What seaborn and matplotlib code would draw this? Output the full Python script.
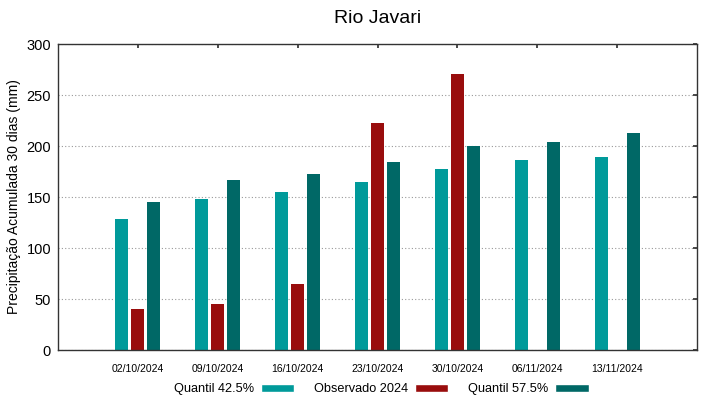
import numpy as np
import pandas as pd
import seaborn as sns
import matplotlib.pyplot as plt
from matplotlib.patches import Patch

# dados
datas = ['02/10/2024', '09/10/2024', '16/10/2024', '23/10/2024',
         '30/10/2024', '06/11/2024', '13/11/2024']
quantil_425 = [128, 148, 155, 165, 177, 186, 189]
observado_2024 = [40, 45, 65, 223, 271, np.nan, np.nan]
quantil_575 = [145, 167, 173, 184, 200, 204, 213]

series = ['Quantil 42.5%', 'Observado 2024', 'Quantil 57.5%']
cores = ['#009a9a', '#990d0d', '#006866']

df = pd.DataFrame({
    'data': datas * 3,
    'valor': quantil_425 + observado_2024 + quantil_575,
    'serie': [s for s in series for _ in datas],
})

sns.set_theme(style='white')
plt.rcParams['font.family'] = ['Liberation Sans', 'DejaVu Sans']
plt.rcParams['text.color'] = 'black'
plt.rcParams['axes.labelcolor'] = 'black'
plt.rcParams['xtick.color'] = 'black'
plt.rcParams['ytick.color'] = 'black'

fig = plt.figure(figsize=(7.19, 3.99), dpi=100)
ax = fig.add_axes([0.0807, 0.1228, 0.8887, 0.7669])

sns.barplot(data=df, x='data', y='valor', hue='serie', order=datas,
            hue_order=series, palette=cores, width=0.6, gap=0.18,
            errorbar=None, saturation=1, linewidth=0, ax=ax, legend=False)

ax.set_xlim(-1, 7)
ax.set_ylim(0, 300)
ax.set_yticks(range(0, 301, 50))
ax.yaxis.grid(True, linestyle=(0, (1, 2)), color='#999999', linewidth=0.8)
ax.set_axisbelow(True)
for s in ax.spines.values():
    s.set_color('#333333')
    s.set_linewidth(1)
ax.tick_params(axis='both', direction='in', length=3, top=True, right=True,
               color='#333333')
ax.tick_params(axis='x', labelsize=7.5, pad=10)
ax.tick_params(axis='y', labelsize=10.5, pad=5)
ax.set_xlabel('')
ax.set_ylabel('Precipitação Acumulada 30 dias (mm)', fontsize=10)
ax.set_title('Rio Javari', fontsize=14, pad=15, color='black')

handles = [Patch(facecolor=c, label=s) for s, c in zip(series, cores)]
fig.legend(handles=handles, loc='center', bbox_to_anchor=(0.53, 0.024),
           ncol=3, frameon=False, markerfirst=False, fontsize=9.2,
           handlelength=2.6, handleheight=0.5, columnspacing=1.55,
           handletextpad=0.55)

fig.savefig('out.png', dpi=100)
